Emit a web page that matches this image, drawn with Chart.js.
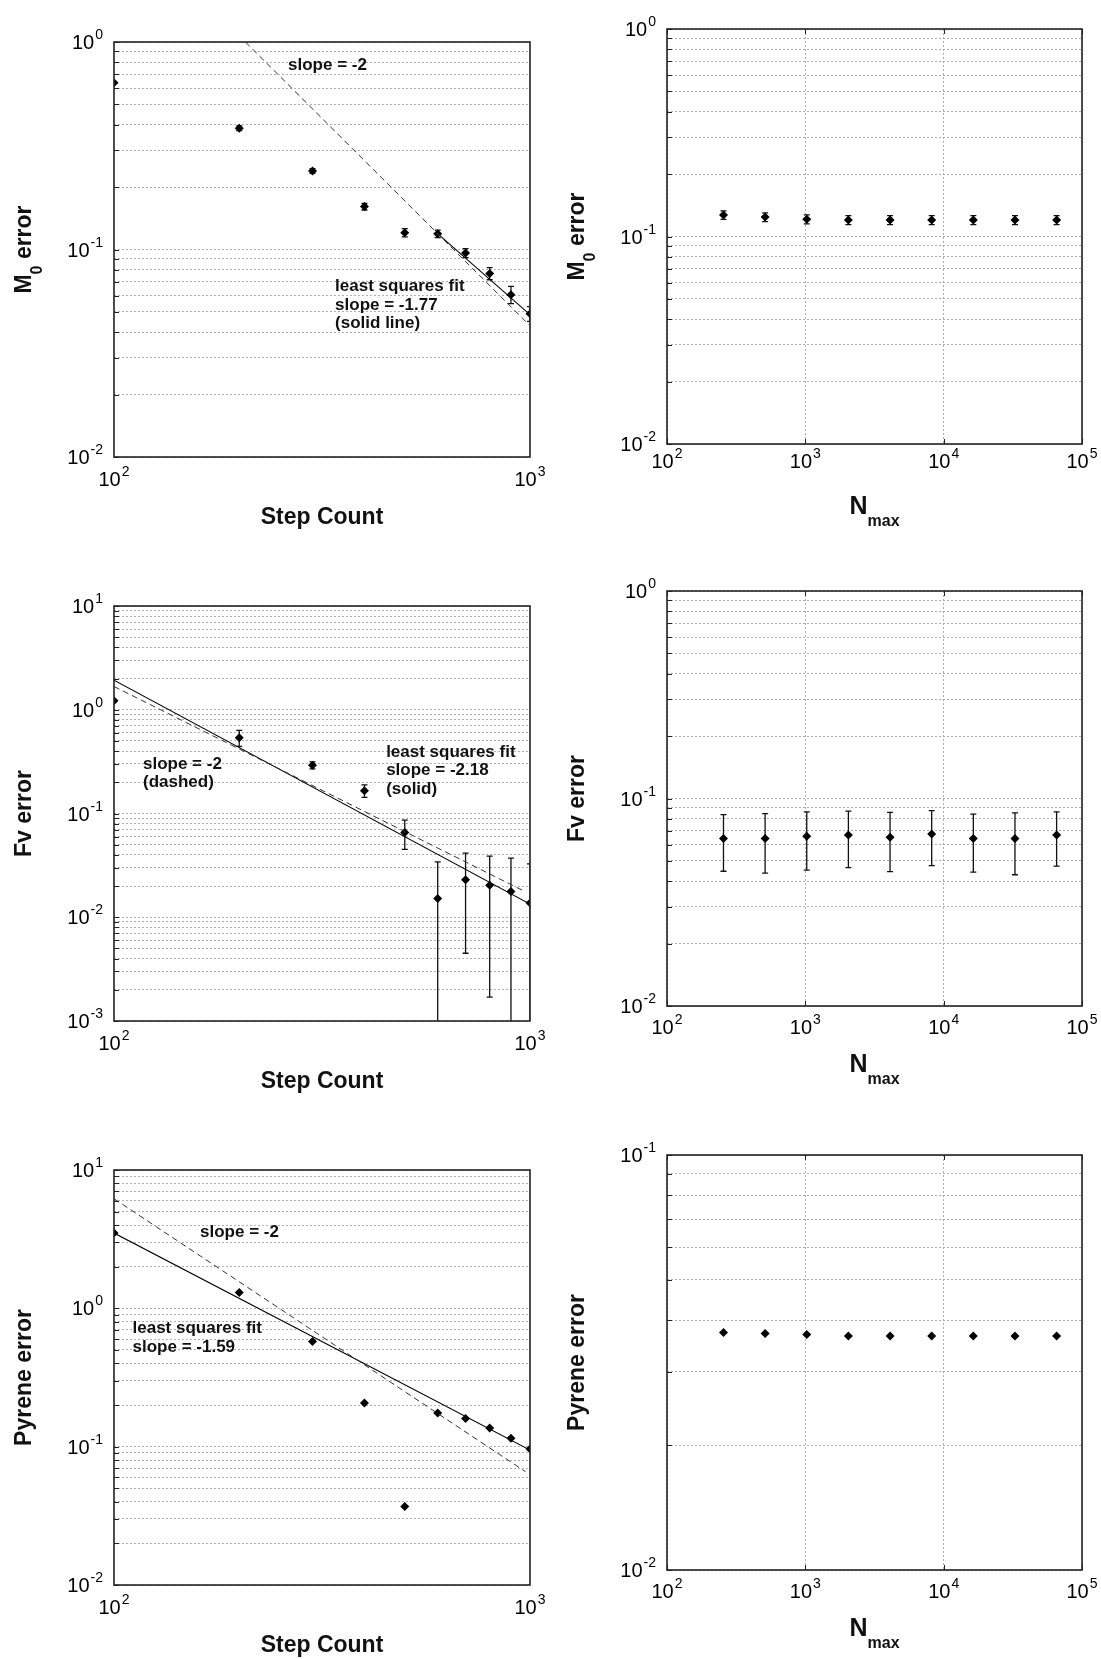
<!DOCTYPE html>
<html>
<head>
<meta charset="utf-8">
<title>Error convergence</title>
<script src="https://cdn.jsdelivr.net/npm/chart.js@4.4.1/dist/chart.umd.min.js"></script>
<style>
  html, body { margin: 0; padding: 0; background: #fff; overflow: hidden; }
  body { width: 1101px; height: 1659px; position: relative; }
  canvas { position: absolute; }
</style>
</head>
<body>
<canvas id="m0Step"></canvas>
<canvas id="m0Nmax"></canvas>
<canvas id="fvStep"></canvas>
<canvas id="fvNmax"></canvas>
<canvas id="pyStep"></canvas>
<canvas id="pyNmax"></canvas>
<script>
// --- data ---
const stepCounts = [100, 200, 300, 400, 500, 600, 700, 800, 900, 1000];
const nMax = [256, 512, 1024, 2048, 4096, 8192, 16384, 32768, 65536];

const m0StepErr = [0.637, 0.384, 0.239, 0.161, 0.1205, 0.119, 0.0962, 0.0766, 0.0606, 0.049];
const m0StepBar = [0, 0.010, 0.006, 0.006, 0.0055, 0.005, 0.0048, 0.0051, 0.0058, 0.004];
const m0StepDashed = [[207, 1.0], [1000, 0.0429]];
const m0StepFit = [[595, 0.121], [1000, 0.0485]];

const fvStepErr = [1.22, 0.538, 0.292, 0.166, 0.0657, 0.0152, 0.0230, 0.0203, 0.0177, 0.0137];
const fvStepBar = [0, 0.095, 0.023, 0.023, 0.0205, 0.019, 0.0185, 0.0186, 0.0194, 0.019];
const fvStepDashed = [[100, 1.675], [975, 0.0176]];
const fvStepFit = [[100, 1.93], [1000, 0.0134]];

const pyStepErr = [3.50, 1.30, 0.575, 0.207, 0.0370, 0.175, 0.160, 0.1365, 0.115, 0.0962];
const pyStepDashed = [[100, 6.2], [975, 0.066]];
const pyStepFit = [[100, 3.5], [1000, 0.0945]];

const m0NmaxErr = [0.127, 0.124, 0.121, 0.120, 0.120, 0.120, 0.120, 0.120, 0.120];
const m0NmaxBar = [0.006, 0.006, 0.006, 0.006, 0.006, 0.006, 0.006, 0.006, 0.006];
const fvNmaxErr = [0.0641, 0.0641, 0.0657, 0.0667, 0.0651, 0.0675, 0.0641, 0.0641, 0.0667];
const fvNmaxBar = [0.0195, 0.0204, 0.0205, 0.0203, 0.0207, 0.0200, 0.0199, 0.0212, 0.0195];
const pyNmaxErr = [0.03737, 0.03715, 0.03693, 0.03664, 0.03664, 0.03664, 0.03664, 0.03664, 0.03664];

// decade tick labels
const stepTicks = [100, 1000];
const nmaxTicks = [100, 1000, 10000, 100000];
const m0Decades = [0.01, 0.1, 1];
const fvStepDecades = [0.001, 0.01, 0.1, 1, 10];
const pyStepDecades = [0.01, 0.1, 1, 10];
const fvNmaxDecades = [0.01, 0.1, 1];
const pyNmaxDecades = [0.01, 0.1];

// text notes, anchored in data units (x, y of first baseline)
const m0StepNotes = [
  { x: 262, y: 0.733, lines: ['slope = -2'] },
  { x: 340, y: 0.063, lines: ['least squares fit', 'slope = -1.77', '(solid line)'] }
];
const fvStepNotes = [
  { x: 117.4, y: 0.2685, lines: ['slope = -2', '(dashed)'] },
  { x: 451, y: 0.3506, lines: ['least squares fit', 'slope = -2.18', '(solid)'] }
];
const pyStepNotes = [
  { x: 161, y: 3.28, lines: ['slope = -2'] },
  { x: 110.8, y: 0.663, lines: ['least squares fit', 'slope = -1.59'] }
];

// --- layout / style ---
const FONT = '"Liberation Sans", Arial, Helvetica, sans-serif';
const INK = '#111';
const GRID = '#b0b0b0';
const COLS = {
  left:  { x: 0,   w: 550, axisW: 114, padR: 20 },
  right: { x: 550, w: 551, axisW: 117, padR: 19 }
};
const PAD_TOP = 30, PLOT_H = 415, AXIS_H = 85;

function logGrid(lo, hi) {
  const out = [];
  const k0 = Math.round(Math.log10(lo)), k1 = Math.round(Math.log10(hi));
  for (let k = k0; k < k1; k++) {
    for (let m = 1; m < 10; m++) out.push(Number((m * Math.pow(10, k)).toPrecision(6)));
  }
  out.push(hi);
  return out;
}

const pts = (xs, ys) => xs.map((x, i) => ({ x, y: ys[i] }));
const seg = pair => pair.map(([x, y]) => ({ x, y }));

function drawPow(ctx, value, x, yc, align) {
  const exp = String(Math.round(Math.log10(value)));
  ctx.font = '20px ' + FONT;
  const bw = ctx.measureText('10').width;
  ctx.font = '14px ' + FONT;
  const ew = ctx.measureText(exp).width;
  const total = bw + 1 + ew;
  const left = align === 'right' ? x - total : x - total / 2;
  ctx.fillStyle = '#000';
  ctx.textAlign = 'left';
  ctx.textBaseline = 'alphabetic';
  ctx.font = '20px ' + FONT;
  ctx.fillText('10', left, yc + 7);
  ctx.font = '14px ' + FONT;
  ctx.fillText(exp, left + bw + 1, yc - 3);
}

// parts: [text, isSub]; drawn centred on origin, baseline at 0
function drawParts(ctx, parts, size, subSize, subDrop) {
  let w = 0;
  parts.forEach(([t, sub]) => {
    ctx.font = 'bold ' + (sub ? subSize : size) + 'px ' + FONT;
    w += ctx.measureText(t).width;
  });
  let x = -w / 2;
  ctx.textAlign = 'left';
  ctx.textBaseline = 'alphabetic';
  ctx.fillStyle = INK;
  parts.forEach(([t, sub]) => {
    ctx.font = 'bold ' + (sub ? subSize : size) + 'px ' + FONT;
    ctx.fillText(t, x, sub ? subDrop : 0);
    x += ctx.measureText(t).width;
  });
}

function decor(p) {
  return {
    id: 'decor',
    beforeDatasetsDraw(chart) {
      if (!p.errs) return;
      const { ctx, chartArea: a, scales: { x, y } } = chart;
      ctx.save();
      ctx.beginPath();
      ctx.rect(a.left, a.top, a.right - a.left, a.bottom - a.top);
      ctx.clip();
      ctx.strokeStyle = INK;
      ctx.lineWidth = 1.3;
      p.xs.forEach((xv, i) => {
        const e = p.errs[i];
        if (!e) return;
        const yv = p.ys[i];
        const px = x.getPixelForValue(xv);
        const hi = y.getPixelForValue(yv + e);
        const hasLow = yv - e > 0;
        const lo = hasLow ? y.getPixelForValue(yv - e) : a.bottom + 2;
        ctx.beginPath();
        ctx.moveTo(px, hi); ctx.lineTo(px, lo);
        ctx.moveTo(px - 3, hi); ctx.lineTo(px + 3, hi);
        if (hasLow) { ctx.moveTo(px - 3, lo); ctx.lineTo(px + 3, lo); }
        ctx.stroke();
      });
      ctx.restore();
    },
    afterDraw(chart) {
      const { ctx, chartArea: a, scales: { x, y } } = chart;
      ctx.save();
      // short inner ticks
      ctx.strokeStyle = '#222';
      ctx.lineWidth = 1;
      y.ticks.forEach(t => {
        const py = Math.round(y.getPixelForValue(t.value)) + 0.5;
        ctx.beginPath(); ctx.moveTo(a.left, py); ctx.lineTo(a.left + 5, py); ctx.stroke();
      });
      if (p.xGrid) {
        p.xLabels.forEach(v => {
          const px = Math.round(x.getPixelForValue(v)) + 0.5;
          ctx.beginPath();
          ctx.moveTo(px, a.top); ctx.lineTo(px, a.top + 5);
          ctx.moveTo(px, a.bottom); ctx.lineTo(px, a.bottom - 5);
          ctx.stroke();
        });
      }
      // frame
      ctx.lineWidth = 1.6;
      ctx.strokeStyle = '#222';
      ctx.strokeRect(a.left, a.top, a.right - a.left, a.bottom - a.top);
      // decade labels
      p.yLabels.forEach(v => drawPow(ctx, v, a.left - 11, y.getPixelForValue(v), 'right'));
      p.xLabels.forEach(v => drawPow(ctx, v, x.getPixelForValue(v), a.bottom + p.labelGap, 'center'));
      // axis titles
      ctx.save();
      ctx.translate((a.left + a.right) / 2, a.bottom + p.titleGap);
      if (p.xTitle.length > 1) drawParts(ctx, p.xTitle, 25, 16, 12);
      else drawParts(ctx, p.xTitle, 23, 16, 0);
      ctx.restore();
      ctx.save();
      ctx.translate(a.left - 83, (a.top + a.bottom) / 2);
      ctx.rotate(-Math.PI / 2);
      drawParts(ctx, p.yTitle, 23, 16, 11);
      ctx.restore();
      // notes
      (p.notes || []).forEach(n => {
        const nx = x.getPixelForValue(n.x);
        const ny = y.getPixelForValue(n.y);
        ctx.font = 'bold 17px ' + FONT;
        ctx.fillStyle = INK;
        ctx.textAlign = 'left';
        ctx.textBaseline = 'alphabetic';
        n.lines.forEach((line, i) => ctx.fillText(line, nx, ny + i * 18.5));
      });
      ctx.restore();
    }
  };
}

const stepTitle = [['Step Count', false]];
const nmaxTitle = [['N', false], ['max', true]];

const panels = [
  { id: 'm0Step', col: 'left', top: 42, xMin: 100, xMax: 1000, yMin: 0.01, yMax: 1,
    xs: stepCounts, ys: m0StepErr, errs: m0StepBar, dashed: m0StepDashed, solid: m0StepFit,
    xLabels: stepTicks, yLabels: m0Decades, xGrid: false, labelGap: 22, titleGap: 67,
    xTitle: stepTitle, yTitle: [['M', false], ['0', true], [' error', false]], notes: m0StepNotes },
  { id: 'm0Nmax', col: 'right', top: 29, xMin: 100, xMax: 100000, yMin: 0.01, yMax: 1,
    xs: nMax, ys: m0NmaxErr, errs: m0NmaxBar,
    xLabels: nmaxTicks, yLabels: m0Decades, xGrid: true, labelGap: 17, titleGap: 70,
    xTitle: nmaxTitle, yTitle: [['M', false], ['0', true], [' error', false]] },
  { id: 'fvStep', col: 'left', top: 606, xMin: 100, xMax: 1000, yMin: 0.001, yMax: 10,
    xs: stepCounts, ys: fvStepErr, errs: fvStepBar, dashed: fvStepDashed, solid: fvStepFit,
    xLabels: stepTicks, yLabels: fvStepDecades, xGrid: false, labelGap: 22, titleGap: 67,
    xTitle: stepTitle, yTitle: [['Fv error', false]], notes: fvStepNotes },
  { id: 'fvNmax', col: 'right', top: 591, xMin: 100, xMax: 100000, yMin: 0.01, yMax: 1,
    xs: nMax, ys: fvNmaxErr, errs: fvNmaxBar,
    xLabels: nmaxTicks, yLabels: fvNmaxDecades, xGrid: true, labelGap: 21, titleGap: 66,
    xTitle: nmaxTitle, yTitle: [['Fv error', false]] },
  { id: 'pyStep', col: 'left', top: 1170, xMin: 100, xMax: 1000, yMin: 0.01, yMax: 10,
    xs: stepCounts, ys: pyStepErr, dashed: pyStepDashed, solid: pyStepFit,
    xLabels: stepTicks, yLabels: pyStepDecades, xGrid: false, labelGap: 22, titleGap: 67,
    xTitle: stepTitle, yTitle: [['Pyrene error', false]], notes: pyStepNotes },
  { id: 'pyNmax', col: 'right', top: 1155, xMin: 100, xMax: 100000, yMin: 0.01, yMax: 0.1,
    xs: nMax, ys: pyNmaxErr,
    xLabels: nmaxTicks, yLabels: pyNmaxDecades, xGrid: true, labelGap: 21, titleGap: 66,
    xTitle: nmaxTitle, yTitle: [['Pyrene error', false]] }
];

panels.forEach(p => {
  const col = COLS[p.col];
  const canvas = document.getElementById(p.id);
  canvas.width = col.w;
  canvas.height = PAD_TOP + PLOT_H + AXIS_H;
  canvas.style.left = col.x + 'px';
  canvas.style.top = (p.top - PAD_TOP) + 'px';

  const datasets = [];
  if (p.dashed) {
    datasets.push({ data: seg(p.dashed), showLine: true, pointRadius: 0,
      borderColor: '#333', borderWidth: 1, borderDash: [6, 4] });
  }
  if (p.solid) {
    datasets.push({ data: seg(p.solid), showLine: true, pointRadius: 0,
      borderColor: '#000', borderWidth: 1.1 });
  }
  datasets.push({ data: pts(p.xs, p.ys), pointStyle: 'rectRot', pointRadius: 4.5,
    backgroundColor: '#000', borderColor: '#000', borderWidth: 0 });

  new Chart(canvas, {
    type: 'scatter',
    data: { datasets },
    options: {
      responsive: false,
      animation: false,
      devicePixelRatio: 1,
      layout: { padding: { left: 0, right: col.padR, top: PAD_TOP, bottom: 0 } },
      plugins: { legend: { display: false }, tooltip: { enabled: false } },
      scales: {
        x: {
          type: 'logarithmic', min: p.xMin, max: p.xMax,
          afterBuildTicks: s => { s.ticks = p.xLabels.map(v => ({ value: v })); },
          afterFit: s => { s.height = AXIS_H; },
          ticks: { display: false },
          grid: { display: p.xGrid, drawTicks: false, color: GRID, lineWidth: 1 },
          border: { display: false, dash: [2, 2] }
        },
        y: {
          type: 'logarithmic', min: p.yMin, max: p.yMax,
          afterBuildTicks: s => { s.ticks = logGrid(p.yMin, p.yMax).map(v => ({ value: v })); },
          afterFit: s => { s.width = col.axisW; },
          ticks: { display: false },
          grid: { drawTicks: false, color: GRID, lineWidth: 1 },
          border: { display: false, dash: [2, 2] }
        }
      }
    },
    plugins: [decor(p)]
  });
});
</script>
</body>
</html>
